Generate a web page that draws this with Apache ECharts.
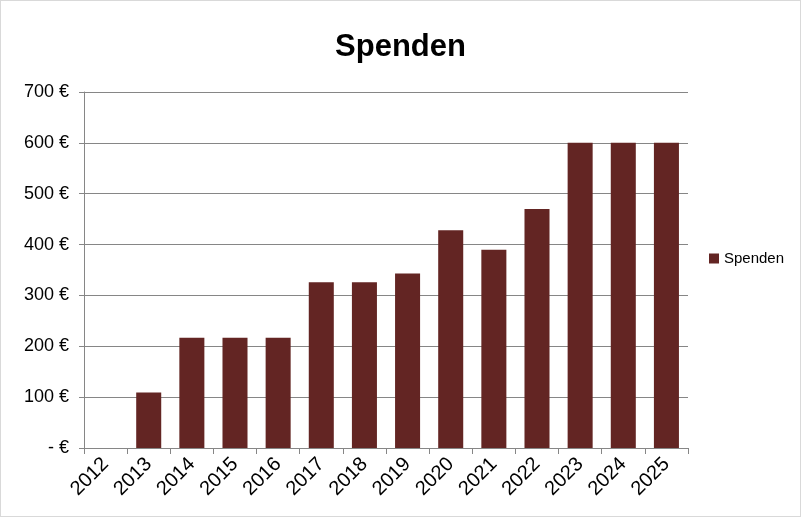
<!DOCTYPE html>
<html>
<head>
<meta charset="utf-8">
<script src="https://cdn.jsdelivr.net/npm/echarts@6/dist/echarts.min.js"></script>
<style>
html,body{margin:0;padding:0;background:#fff;}
#chart{width:799px;height:515px;border:1px solid #d9d9d9;}
</style>
</head>
<body>
<div id="chart"></div>
<script>
// Jahre
var years = ['2012','2013','2014','2015','2016','2017','2018','2019','2020','2021','2022','2023','2024','2025'];
// Spenden in Euro
var spenden = [0, 109, 217, 217, 217, 326, 326, 343, 428, 390, 470, 600, 600, 600];
var yMax = 700;
var yStep = 100;

var myChart = echarts.init(document.getElementById('chart'));
var option = {
    animation: false,
    title: {
        text: 'Spenden',
        left: 'center',
        top: 26,
        textStyle: {fontFamily: 'Liberation Sans', fontSize: 31, fontWeight: 'bold', color: '#000'}
    },
    legend: {
        orient: 'vertical',
        left: 703,
        top: 245,
        itemWidth: 10,
        itemHeight: 10,
        itemGap: 5,
        icon: 'rect',
        textStyle: {fontFamily: 'Liberation Sans', fontSize: 15, color: '#000'},
        data: ['Spenden']
    },
    grid: {left: 83, right: 112, top: 91, bottom: 68, containLabel: false},
    xAxis: {
        type: 'category',
        data: years,
        boundaryGap: true,
        axisLine: {lineStyle: {color: '#868686'}},
        axisTick: {show: true, length: 6, lineStyle: {color: '#868686'}},
        axisLabel: {
            rotate: 45,
            interval: 0,
            fontFamily: 'Liberation Sans',
            fontSize: 20,
            color: '#000',
            margin: 13
        }
    },
    yAxis: {
        type: 'value',
        min: 0,
        max: yMax,
        interval: yStep,
        axisLine: {show: true, lineStyle: {color: '#868686'}},
        axisTick: {show: true, length: 5, lineStyle: {color: '#868686'}},
        splitLine: {lineStyle: {color: '#868686'}},
        axisLabel: {
            fontFamily: 'Liberation Sans',
            fontSize: 18,
            color: '#000',
            margin: 15,
            formatter: function (v) { return v === 0 ? '- €' : v + ' €'; }
        }
    },
    series: [{
        name: 'Spenden',
        type: 'bar',
        data: spenden,
        barWidth: '58%',
        itemStyle: {color: '#632523'}
    }]
};
myChart.setOption(option);
</script>
</body>
</html>
